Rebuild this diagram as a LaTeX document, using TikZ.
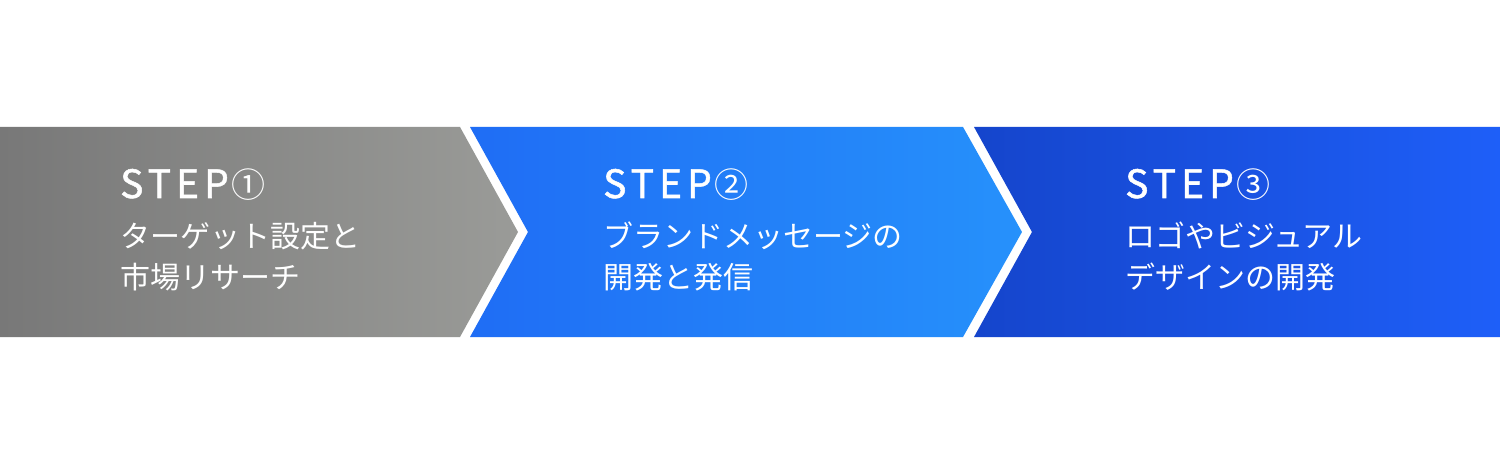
\documentclass[tikz,border=0pt]{standalone}
\usepackage{fontspec}
\setmainfont{Noto Sans CJK JP}
\newfontfamily\jpfont{Noto Sans CJK JP}
\newfontfamily\stepfont[LetterSpace=13,FakeBold=1.3]{Noto Sans CJK JP}
\newcommand{\circnum}[1]{\hspace{3pt}{\jpfont\fontsize{34}{40}\selectfont #1}}
\definecolor{grayL}{HTML}{787878}
\definecolor{grayR}{HTML}{9A9B98}
\definecolor{blueAL}{HTML}{1F6DF5}
\definecolor{blueAR}{HTML}{2691FB}
\definecolor{blueBL}{HTML}{1545CC}
\definecolor{blueBR}{HTML}{1E5FF8}
\begin{document}
\begin{tikzpicture}[x=1pt,y=-1pt,
  steptitle/.style={anchor=base west,inner sep=0pt,text=white,font=\stepfont\fontsize{39}{44}\selectfont},
  stepbody/.style={anchor=base west,inner sep=0pt,text=white,align=left,font=\jpfont\fontsize{30}{42}\selectfont}]
\useasboundingbox (0,0) rectangle (1500,465);
\fill[white] (0,0) rectangle (1500,465);
\shade[left color=grayL,right color=grayR]
  (0,127) -- (460,127) -- (518,232) -- (460,337) -- (0,337) -- cycle;
\shade[left color=blueAL,right color=blueAR]
  (470,127) -- (963,127) -- (1022,232) -- (963,337) -- (470,337) -- (528,232) -- cycle;
\shade[left color=blueBL,right color=blueBR]
  (974,127) -- (1500,127) -- (1500,337) -- (974,337) -- (1032,232) -- cycle;
\node[steptitle] (h1) at (120,198) {STEP\circnum{①}};
\node[stepbody] (b1) at (120,289) {ターゲット設定と\\市場リサーチ};
\node[steptitle] (h2) at (603,198) {STEP\circnum{②}};
\node[stepbody] (b2) at (603,289) {ブランドメッセージの\\開発と発信};
\node[steptitle] (h3) at (1125,198) {STEP\circnum{③}};
\node[stepbody] (b3) at (1125,289) {ロゴやビジュアル\\デザインの開発};
\end{tikzpicture}
\end{document}
